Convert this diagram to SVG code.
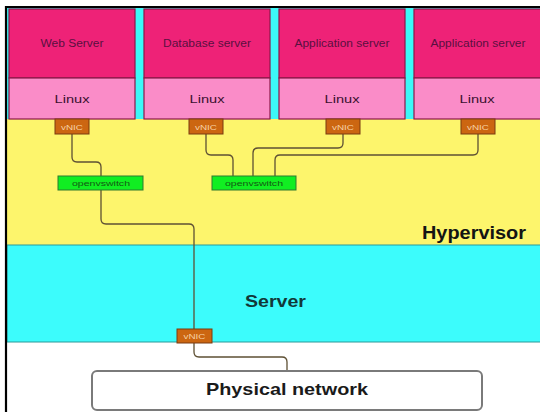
<svg xmlns="http://www.w3.org/2000/svg" width="540" height="412" viewBox="0 0 540 412">
  <style>
    .vm { fill: #ee2277; stroke: #8a1848; stroke-width: 1.2; }
    .os { fill: #fa8cc8; stroke: #8a1848; stroke-width: 1.2; }
    .vmt { font-family: "Liberation Sans", Arial, sans-serif; font-size: 10px; fill: #5a1040; text-anchor: middle; }
    .ost { font-family: "Liberation Sans", Arial, sans-serif; font-size: 11.7px; fill: #3a1030; text-anchor: middle; }
    .nic { fill: #cc6611; stroke: #7a3a10; stroke-width: 1; }
    .nict { font-family: "Liberation Sans", Arial, sans-serif; font-size: 7.5px; fill: #f6d0a4; text-anchor: middle; }
    .sw { fill: #11ee22; stroke: #2e7a2e; stroke-width: 1; }
    .swt { font-family: "Liberation Sans", Arial, sans-serif; font-size: 7.5px; fill: #145a14; text-anchor: middle; }
    .big { font-family: "Liberation Sans", Arial, sans-serif; font-weight: bold; }
    .wire { fill: none; stroke: #5e5034; stroke-width: 1.3; }
  </style>

  <!-- page background -->
  <rect x="0" y="0" width="540" height="412" fill="#ffffff"/>

  <!-- layers -->
  <g id="vm-band">
    <rect x="7" y="8" width="533" height="111" fill="#3cf8f8"/>
  </g>
  <g id="hypervisor">
    <rect x="7" y="119" width="533" height="126" fill="#fdf56c"/>
    <text class="big" x="526" y="239" font-size="18" text-anchor="end" fill="#141414" textLength="104" lengthAdjust="spacingAndGlyphs">Hypervisor</text>
  </g>
  <g id="server">
    <rect x="7" y="245" width="534" height="97" fill="#3cfcfc" stroke="#2a9a9a" stroke-width="1"/>
    <text class="big" x="275.5" y="307" font-size="16.5" text-anchor="middle" fill="#123838" textLength="61" lengthAdjust="spacingAndGlyphs">Server</text>
  </g>

  <!-- frame -->
  <path d="M6 412 V7 H540" fill="none" stroke="#000" stroke-width="2.2"/>

  <!-- virtual machines -->
  <g id="vm-web">
    <rect class="vm" x="9" y="9" width="126" height="69"/>
    <rect class="os" x="9" y="78" width="126" height="41"/>
    <text class="vmt" x="72" y="46.5" textLength="63" lengthAdjust="spacingAndGlyphs">Web Server</text>
    <text class="ost" x="72" y="102.7" textLength="35" lengthAdjust="spacingAndGlyphs">Linux</text>
  </g>
  <g id="vm-db">
    <rect class="vm" x="144" y="9" width="126" height="69"/>
    <rect class="os" x="144" y="78" width="126" height="41"/>
    <text class="vmt" x="207" y="46.5" textLength="88" lengthAdjust="spacingAndGlyphs">Database server</text>
    <text class="ost" x="207" y="102.7" textLength="35" lengthAdjust="spacingAndGlyphs">Linux</text>
  </g>
  <g id="vm-app1">
    <rect class="vm" x="279" y="9" width="126" height="69"/>
    <rect class="os" x="279" y="78" width="126" height="41"/>
    <text class="vmt" x="342" y="46.5" textLength="95" lengthAdjust="spacingAndGlyphs">Application server</text>
    <text class="ost" x="342" y="102.7" textLength="35" lengthAdjust="spacingAndGlyphs">Linux</text>
  </g>
  <g id="vm-app2">
    <rect class="vm" x="414" y="9" width="127" height="69"/>
    <rect class="os" x="414" y="78" width="127" height="41"/>
    <text class="vmt" x="478" y="46.5" textLength="95" lengthAdjust="spacingAndGlyphs">Application server</text>
    <text class="ost" x="477" y="102.7" textLength="35" lengthAdjust="spacingAndGlyphs">Linux</text>
  </g>

  <!-- connectors -->
  <g id="connectors">
    <path class="wire" d="M72 134 V157 Q72 162 77 162 H96 Q101 162 101 167 V176"/>
    <path class="wire" d="M101 190 V219 Q101 224 106 224 H189 Q194 224 194 229 V329"/>
    <path class="wire" d="M206 134 V150 Q206 155 211 155 H228 Q233 155 233 160 V176"/>
    <path class="wire" d="M343 134 V143 Q343 148 338 148 H258 Q253 148 253 153 V176"/>
    <path class="wire" d="M478 134 V150 Q478 155 473 155 H280 Q275 155 275 160 V176"/>
    <path class="wire" d="M194 343 V352 Q194 357 199 357 H282 Q287 357 287 362 V371" stroke="#6a6a6a"/>
  </g>

  <!-- virtual NICs -->
  <g id="vnic-web">
    <rect class="nic" x="55" y="119" width="34" height="15"/>
    <text class="nict" x="72" y="129.5" textLength="22" lengthAdjust="spacingAndGlyphs">vNIC</text>
  </g>
  <g id="vnic-db">
    <rect class="nic" x="189" y="119" width="34" height="15"/>
    <text class="nict" x="206" y="129.5" textLength="22" lengthAdjust="spacingAndGlyphs">vNIC</text>
  </g>
  <g id="vnic-app1">
    <rect class="nic" x="326" y="119" width="34" height="15"/>
    <text class="nict" x="343" y="129.5" textLength="22" lengthAdjust="spacingAndGlyphs">vNIC</text>
  </g>
  <g id="vnic-app2">
    <rect class="nic" x="461" y="119" width="34" height="15"/>
    <text class="nict" x="478" y="129.5" textLength="22" lengthAdjust="spacingAndGlyphs">vNIC</text>
  </g>
  <g id="vnic-host">
    <rect class="nic" x="177" y="329" width="35" height="14"/>
    <text class="nict" x="194.5" y="339" textLength="22" lengthAdjust="spacingAndGlyphs">vNIC</text>
  </g>

  <!-- virtual switches -->
  <g id="ovs-1">
    <rect class="sw" x="58" y="176" width="85" height="14"/>
    <text class="swt" x="101" y="186" textLength="58" lengthAdjust="spacingAndGlyphs">openvswitch</text>
  </g>
  <g id="ovs-2">
    <rect class="sw" x="212" y="176" width="84" height="14"/>
    <text class="swt" x="254" y="186" textLength="58" lengthAdjust="spacingAndGlyphs">openvswitch</text>
  </g>

  <!-- physical network -->
  <g id="physical-network">
    <rect x="92" y="371" width="390" height="39" rx="5" ry="5" fill="#ffffff" stroke="#7a7a7a" stroke-width="2"/>
    <text class="big" x="287" y="395" font-size="17" text-anchor="middle" fill="#1a1a1a" textLength="162" lengthAdjust="spacingAndGlyphs">Physical network</text>
  </g>
</svg>
